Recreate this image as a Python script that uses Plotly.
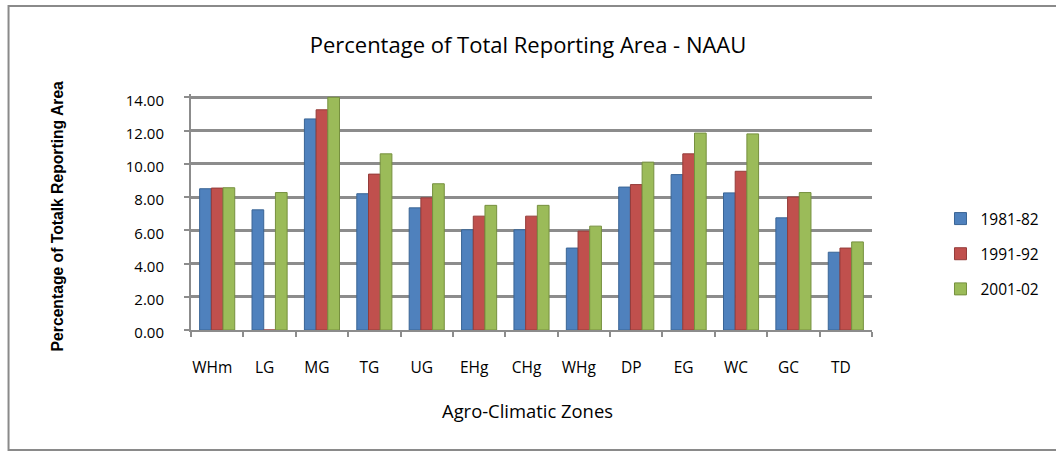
import plotly.graph_objects as go

# Agro-climatic zones and share of total reporting area (%) per census period
zones = ["WHm", "LG", "MG", "TG", "UG", "EHg", "CHg", "WHg", "DP", "EG", "WC", "GC", "TD"]
pct_1981_82 = [8.50, 7.23, 12.70, 8.20, 7.35, 6.03, 6.03, 4.93, 8.60, 9.35, 8.25, 6.75, 4.68]
pct_1991_92 = [8.54, 0.00, 13.25, 9.38, 7.95, 6.85, 6.85, 5.95, 8.75, 10.60, 9.55, 8.00, 4.93]
pct_2001_02 = [8.56, 8.27, 14.00, 10.60, 8.80, 7.50, 7.50, 6.25, 10.10, 11.85, 11.80, 8.27, 5.30]

series = [
    ("1981-82", pct_1981_82, "#4F81BD", "#3A6595"),
    ("1991-92", pct_1991_92, "#C0504D", "#943C3A"),
    ("2001-02", pct_2001_02, "#9BBB59", "#76903F"),
]

fig = go.Figure()
for name, vals, fill, edge in series:
    fig.add_trace(go.Bar(
        x=zones, y=vals, name=name, legendgroup=name,
        marker=dict(color=fill, line=dict(color=edge, width=1)),
    ))

grid = "#8C8C8C"
base_font = "'Open Sans', Lato, sans-serif"

# plot area geometry in pixels
L, R, T, B = 191, 1056 - 874, 94, 454 - 330
W, H = 1056 - L - R, 454 - T - B


def px(x):
    return (x - L) / W


def py(y):
    return (330 - y) / H


fig.update_layout(
    width=1056, height=454,
    margin=dict(l=L, r=R, t=T, b=B),
    paper_bgcolor="white", plot_bgcolor="white",
    barmode="group", bargap=0.33, bargroupgap=0.0,
    font=dict(family=base_font, size=13, color="#000000"),
    title=dict(
        text="Percentage of Total Reporting Area - NAAU",
        x=0.5, xanchor="center", y=1 - 45 / 454, yanchor="middle",
        font=dict(family=base_font, size=22, color="#000000"),
    ),
    legend=dict(
        x=px(1047), xanchor="right", y=py(254), yanchor="middle",
        font=dict(family=base_font, size=15.5),
        tracegroupgap=12, bgcolor="rgba(0,0,0,0)",
    ),
    xaxis=dict(
        showline=True, linecolor=grid, linewidth=2,
        ticks="outside", tickson="boundaries", ticklen=5, tickcolor=grid, tickwidth=2,
        ticklabelstandoff=22, ticklabelshift=-5, tickfont=dict(size=15.5),
        showgrid=False,
    ),
    yaxis=dict(
        range=[0, 14.2], dtick=2, tickformat=".2f",
        showline=True, linecolor=grid, linewidth=2,
        ticks="outside", ticklen=5, tickcolor=grid, tickwidth=2,
        showgrid=True, gridcolor=grid, gridwidth=2.5,
        zeroline=False, ticklabelstandoff=17, ticklabelshift=3,
        tickfont=dict(size=15),
    ),
    annotations=[
        dict(text="<b>Percentage of Totalk Reporting Area</b>", textangle=-90,
             xref="paper", yref="paper", x=px(57), y=py(216),
             xanchor="center", yanchor="middle", showarrow=False,
             font=dict(family="'Liberation Sans', Arial, sans-serif", size=15.7)),
        dict(text="Agro-Climatic Zones",
             xref="paper", yref="paper", x=px(528), y=py(410),
             xanchor="center", yanchor="middle", showarrow=False,
             font=dict(family=base_font, size=18.4)),
    ],
    shapes=[
        dict(type="rect", xref="paper", yref="paper",
             x0=px(8), x1=px(1062), y0=py(450), y1=py(6),
             line=dict(color="#8A8A8A", width=2), fillcolor="rgba(0,0,0,0)"),
    ],
)

fig.write_html("out.html")
